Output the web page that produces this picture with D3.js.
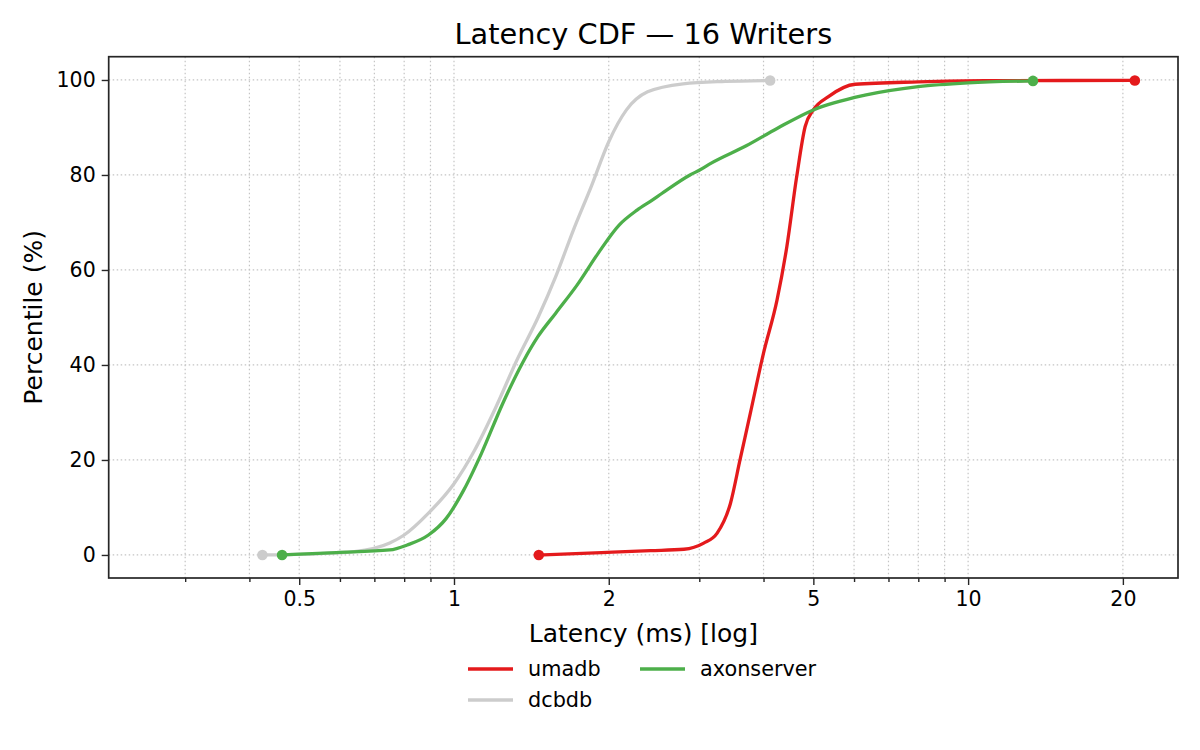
<!DOCTYPE html>
<html>
<head>
<meta charset="utf-8">
<script src="https://cdn.jsdelivr.net/npm/d3@7/dist/d3.min.js"></script>
<style>
  body { margin: 0; background: #fff; }
  svg { font-family: "DejaVu Sans", sans-serif; }
</style>
</head>
<body>
<svg id="chart"></svg>
<script>
// data
var seriesNames = ['umadb', 'dcbdb', 'axonserver'];
var seriesColors = ['#e41a1c', '#cccccc', '#4daf4a'];

var umadbLatency = [1.462, 1.937, 2.41, 2.80, 3.06, 3.25, 3.45, 3.60, 3.77, 4.0, 4.25, 4.44, 4.64, 4.82, 5.0, 5.35, 6.03, 8.0, 10.8, 21.1];
var umadbPct     = [0, 0.5, 0.9, 1.2, 2.5, 4.6, 10.9, 20, 29.8, 42.5, 53.7, 64.9, 79.6, 90.2, 93.7, 96.5, 99.1, 99.6, 99.86, 99.9];

var dcbdbLatency = [0.424, 0.55, 0.64, 0.75, 0.80, 0.892, 1.0, 1.096, 1.205, 1.325, 1.457, 1.577, 1.707, 1.848, 2.0, 2.165, 2.38, 2.79, 3.37, 4.12];
var dcbdbPct     = [0, 0.3, 0.7, 2.5, 4.2, 8.8, 15, 22, 31, 41, 50, 58.6, 68.4, 77.5, 87, 93.7, 97.5, 99.2, 99.7, 99.9];

var axonLatency = [0.463, 0.59, 0.75, 0.811, 0.892, 0.966, 1.045, 1.131, 1.244, 1.368, 1.457, 1.577, 1.735, 1.907, 2.097, 2.27, 2.43, 2.536, 2.878, 3.0, 3.165, 3.71, 4.25, 5.0, 6.3, 8.0, 10.0, 13.37];
var axonPct     = [0, 0.5, 1.05, 2.1, 4.2, 7.7, 13.7, 21.4, 31.9, 41, 46, 50.9, 56.8, 63.5, 69.5, 72.6, 74.7, 76.1, 80, 81, 82.5, 86.2, 89.8, 93.7, 96.8, 98.6, 99.4, 99.8];

var xMajorTicks = [0.5, 1, 2, 5, 10, 20];
var xTickLabels = ['0.5', '1', '2', '5', '10', '20'];
var xMinorTicks = [0.3, 0.4, 0.6, 0.7, 0.8, 0.9, 3, 4, 6, 7, 8, 9];
var yTicks = [0, 20, 40, 60, 80, 100];

var titleText = 'Latency CDF — 16 Writers';
var xLabel = 'Latency (ms) [log]';
var yLabel = 'Percentile (%)';

var W = 1200, H = 750;
var pLeft = 108.7, pRight = 1178, pTop = 56.7, pBottom = 578;

var svg = d3.select('#chart').attr('width', W).attr('height', H);

var x = d3.scaleLog().domain([0.213, 25.6]).range([pLeft, pRight]);
var y = d3.scaleLinear().domain([-4.85, 104.9]).range([pBottom, pTop]);

// grid
var grid = svg.append('g');
grid.selectAll('line.gx').data(xMajorTicks.concat(xMinorTicks)).enter().append('line')
  .attr('x1', function(d) { return x(d); }).attr('x2', function(d) { return x(d); })
  .attr('y1', pTop).attr('y2', pBottom)
  .attr('stroke', '#c4c4c4').attr('stroke-width', 1.2).attr('stroke-dasharray', '1.5,2.5');
grid.selectAll('line.gy').data(yTicks).enter().append('line')
  .attr('x1', pLeft).attr('x2', pRight)
  .attr('y1', function(d) { return y(d); }).attr('y2', function(d) { return y(d); })
  .attr('stroke', '#c4c4c4').attr('stroke-width', 1.2).attr('stroke-dasharray', '1.5,2.5');

// series
var dataset = [
  { name: seriesNames[0], color: seriesColors[0], lat: umadbLatency, pct: umadbPct },
  { name: seriesNames[1], color: seriesColors[1], lat: dcbdbLatency, pct: dcbdbPct },
  { name: seriesNames[2], color: seriesColors[2], lat: axonLatency, pct: axonPct }
];

var line = d3.line()
  .x(function(d) { return x(d[0]); })
  .y(function(d) { return y(d[1]); })
  .curve(d3.curveMonotoneX);

dataset.forEach(function(s) {
  var pts = s.lat.map(function(v, i) { return [v, s.pct[i]]; });
  svg.append('path').datum(pts)
    .attr('d', line)
    .attr('fill', 'none')
    .attr('stroke', s.color)
    .attr('stroke-width', 3.3)
    .attr('stroke-linejoin', 'round')
    .attr('stroke-linecap', 'round');
  svg.selectAll(null).data([pts[0], pts[pts.length - 1]]).enter().append('circle')
    .attr('cx', function(d) { return x(d[0]); })
    .attr('cy', function(d) { return y(d[1]); })
    .attr('r', 5.3)
    .attr('fill', s.color);
});

// axes
var xAxis = d3.axisBottom(x).tickValues(xMajorTicks)
  .tickFormat(function(d, i) { return xTickLabels[i]; }).tickSize(7).tickPadding(6);
var xMinor = d3.axisBottom(x).tickValues(xMinorTicks).tickFormat('').tickSize(4);
var yAxis = d3.axisLeft(y).tickValues(yTicks).tickSize(7).tickPadding(6);

var gx = svg.append('g').attr('transform', 'translate(0,' + pBottom + ')').call(xAxis);
var gxm = svg.append('g').attr('transform', 'translate(0,' + pBottom + ')').call(xMinor);
var gy = svg.append('g').attr('transform', 'translate(' + pLeft + ',0)').call(yAxis);

[gx, gxm, gy].forEach(function(g) {
  g.select('.domain').remove();
  g.selectAll('line').attr('stroke', '#262626').attr('stroke-width', 1.4);
  g.selectAll('text').attr('font-size', 20.5).attr('fill', '#000')
    .attr('font-family', '"DejaVu Sans", sans-serif');
});

// frame
svg.append('rect')
  .attr('x', pLeft).attr('y', pTop)
  .attr('width', pRight - pLeft).attr('height', pBottom - pTop)
  .attr('fill', 'none').attr('stroke', '#262626').attr('stroke-width', 1.7);

// labels
svg.append('text').text(titleText)
  .attr('x', (pLeft + pRight) / 2).attr('y', 43.5)
  .attr('text-anchor', 'middle').attr('font-size', 28.8);
svg.append('text').text(xLabel)
  .attr('x', (pLeft + pRight) / 2).attr('y', 642)
  .attr('text-anchor', 'middle').attr('font-size', 25);
svg.append('text').text(yLabel)
  .attr('transform', 'translate(42,' + ((pTop + pBottom) / 2) + ') rotate(-90)')
  .attr('text-anchor', 'middle').attr('font-size', 25);

// legend, two columns, column-major
var legendCols = [468, 640], legendRows = [669, 700];
var lg = svg.append('g');
dataset.forEach(function(s, i) {
  var cx = legendCols[Math.floor(i / 2)], cy = legendRows[i % 2];
  lg.append('line')
    .attr('x1', cx).attr('x2', cx + 45)
    .attr('y1', cy).attr('y2', cy)
    .attr('stroke', s.color).attr('stroke-width', 3.6);
  lg.append('text').text(s.name)
    .attr('x', cx + 60).attr('y', cy + 7)
    .attr('font-size', 20.8);
});
</script>
</body>
</html>
